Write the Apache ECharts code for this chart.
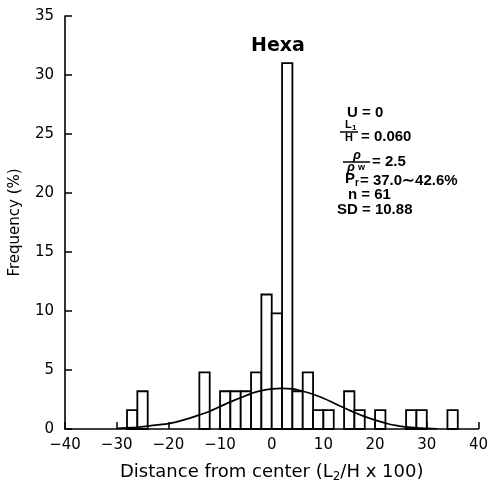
<!DOCTYPE html>
<html>
<head>
<meta charset="utf-8">
<script src="https://cdn.jsdelivr.net/npm/echarts@6/dist/echarts.min.js"></script>
<style>html,body{margin:0;padding:0;background:#fff;}#c{width:491px;height:488px;}</style>
</head>
<body>
<div id="c"></div>
<script>
// Histogram bins (left edge, width 2) and frequencies (%)
var binLeft = [-28, -26, -14, -10, -8, -6, -4, -2, 0, 2, 4, 6, 8, 10, 14, 16, 20, 26, 28, 34];
var binWidth = 2;
var freq = [1.6, 3.2, 4.8, 3.2, 3.2, 3.2, 4.8, 11.4, 9.8, 31.0, 3.2, 4.8, 1.6, 1.6, 3.2, 1.6, 1.6, 1.6, 1.6, 1.6];
// Fitted normal curve
var curveX = [-30, -28, -26, -24, -22, -20, -18, -16, -14, -12, -10, -8, -6, -4, -2, 0, 2, 4, 6, 8, 10, 12, 14, 16, 18, 20, 22, 24, 26, 28, 30, 32];
var curveY = [0.05, 0.1, 0.15, 0.25, 0.35, 0.45, 0.65, 0.9, 1.2, 1.5, 1.9, 2.3, 2.65, 3.0, 3.25, 3.4, 3.45, 3.4, 3.2, 2.95, 2.6, 2.2, 1.8, 1.4, 1.05, 0.75, 0.5, 0.3, 0.18, 0.1, 0.05, 0.02];
var xTicks = [-40, 40, 10];
var yTicks = [0, 35, 5];

var font = 'DejaVu Sans';
var chart = echarts.init(document.getElementById('c'));
var barData = binLeft.map(function (b, i) { return [b, b + binWidth, freq[i]]; });
var lineData = curveX.map(function (x, i) { return [x, curveY[i]]; });

function t(x, y, text, size, extra) {
  return { type: 'text', x: x, y: y, style: Object.assign({ text: text, font: 'bold ' + size + 'px "Liberation Sans"', fill: '#000', textVerticalAlign: 'middle' }, extra || {}) };
}
function ln(x1, y1, x2, y2) {
  return { type: 'line', shape: { x1: x1, y1: y1, x2: x2, y2: y2 }, style: { stroke: '#000', lineWidth: 1.5 } };
}

chart.setOption({
  animation: false,
  backgroundColor: '#fff',
  grid: { left: 65, right: 11, top: 16, bottom: 56 },
  xAxis: {
    type: 'value', min: xTicks[0], max: xTicks[1], interval: xTicks[2],
    name: 'Distance from center (L{s|2}/H x 100)',
    nameLocation: 'middle', nameGap: 33,
    nameTextStyle: { fontFamily: font, fontSize: 18, color: '#000', rich: { s: { fontFamily: font, fontSize: 12, color: '#000', verticalAlign: 'bottom', padding: [9, 0, 0, 0] } } },
    axisLine: { show: true, onZero: false, lineStyle: { color: '#000', width: 1.6 } },
    axisTick: { show: true, inside: true, length: 7, lineStyle: { color: '#000', width: 1.5 } },
    axisLabel: { fontFamily: font, fontSize: 15, color: '#000', margin: 9, formatter: function (v) { return String(v).replace('-', '\u2212'); } },
    splitLine: { show: false }
  },
  yAxis: {
    type: 'value', min: yTicks[0], max: yTicks[1], interval: yTicks[2],
    name: 'Frequency (%)', nameLocation: 'middle', nameGap: 42,
    nameTextStyle: { fontFamily: font, fontSize: 15, color: '#000' },
    axisLine: { show: true, onZero: false, lineStyle: { color: '#000', width: 1.6 } },
    axisTick: { show: true, inside: true, length: 7, lineStyle: { color: '#000', width: 1.5 } },
    axisLabel: { fontFamily: font, fontSize: 15, color: '#000', margin: 11 },
    splitLine: { show: false }
  },
  series: [
    {
      type: 'custom',
      data: barData,
      encode: { x: [0, 1], y: 2 },
      renderItem: function (params, api) {
        var p0 = api.coord([api.value(0), 0]);
        var p1 = api.coord([api.value(1), api.value(2)]);
        return { type: 'rect', shape: { x: p0[0], y: p1[1], width: p1[0] - p0[0], height: p0[1] - p1[1] }, style: { fill: '#fff', stroke: '#000', lineWidth: 1.8 } };
      },
      z: 2
    },
    {
      type: 'line', data: lineData, smooth: true, showSymbol: false, symbol: 'none',
      lineStyle: { color: '#000', width: 1.7 }, z: 3
    }
  ],
  graphic: [
    { type: 'text', x: 278, y: 46, style: { text: 'Hexa', font: 'bold 19px "DejaVu Sans"', fill: '#000', textAlign: 'center', textVerticalAlign: 'middle' } },
    t(347, 113, 'U = 0', 15),
    t(345, 125, 'L', 11), t(352, 128, '1', 8),
    ln(340, 132, 358, 132),
    t(345, 138, 'H', 11),
    t(361, 137, '= 0.060', 15),
    t(353, 155, '\u03C1', 13, { font: 'bold italic 13px "Liberation Sans"' }),
    ln(343, 162, 370, 162),
    t(347, 167, '\u03C1', 13, { font: 'bold italic 13px "Liberation Sans"' }),
    t(358, 168, 'w', 9),
    t(372, 162, '= 2.5', 15),
    t(345, 179, 'P', 15), t(355, 183, 'r', 10),
    t(360, 181, '= 37.0\u223C42.6%', 15),
    t(348, 195, 'n = 61', 15),
    t(337, 210, 'SD = 10.88', 15)
  ]
});
</script>
</body>
</html>
